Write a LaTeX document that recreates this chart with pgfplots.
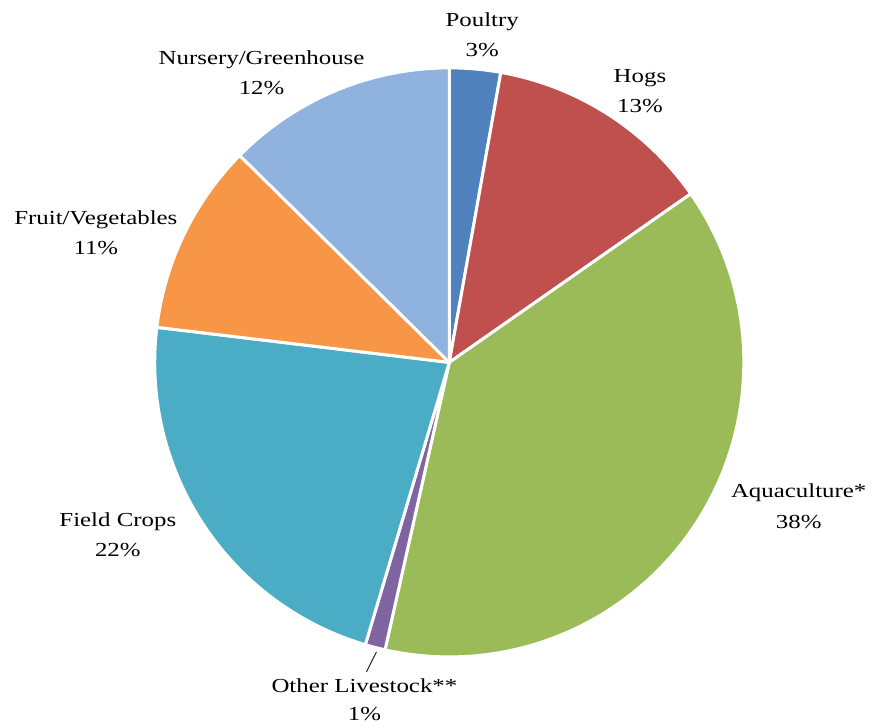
\documentclass[border=0pt]{standalone}
\usepackage{pgfplots}
\pgfplotsset{compat=1.18}
\usepackage{pgfplotstable}
\usepackage{fontspec}
\setmainfont{Liberation Serif}[FakeStretch=1.25]
\definecolor{cPoultry}{HTML}{4F81BD}
\definecolor{cHogs}{HTML}{C0504D}
\definecolor{cAqua}{HTML}{9BBB59}
\definecolor{cOther}{HTML}{8064A2}
\definecolor{cField}{HTML}{4BACC6}
\definecolor{cFruit}{HTML}{F79646}
\definecolor{cNursery}{HTML}{8FB3DE}
\definecolor{txt}{HTML}{262626}
\pgfplotstableread{
name value color
Poultry 2.8 cPoultry
Hogs 12.5 cHogs
Aquaculture 38.2 cAqua
OtherLivestock 1.1 cOther
FieldCrops 22.3 cField
FruitVegetables 10.5 cFruit
NurseryGreenhouse 12.6 cNursery
}\piedata
\begin{document}
\begin{tikzpicture}
\begin{axis}[
  x=0.5bp, y=0.5bp,
  xmin=-450, xmax=423, ymin=-364, ymax=363,
  hide axis, clip=false,
  every node/.style={font=\fontsize{13.5}{15}\selectfont, text=txt},
]
\addplot[draw=none] coordinates {(-450,-364) (423,363)};
\def\cum{90}
\pgfplotsforeachungrouped \i in {0,...,6}{%
  \pgfplotstablegetelem{\i}{value}\of\piedata \let\v\pgfplotsretval
  \pgfplotstablegetelem{\i}{color}\of\piedata \let\c\pgfplotsretval
  \pgfmathsetmacro\endang{\cum - 3.6*\v}%
  \edef\temp{\noexpand\addplot[fill=\c, draw=white, line width=1.5bp, line join=round]
    coordinates {(0,0)} -- ++(\cum:147.5bp) arc[start angle=\cum, end angle=\endang, radius=147.5bp] -- cycle;}%
  \temp
  \global\let\cum\endang
}
\addplot[txt, line width=0.5bp] coordinates {(-73,-290) (-83,-310)};
\node[anchor=base] at (axis cs:33,336) {Poultry};
\node[anchor=base] at (axis cs:33,306) {3\%};
\node[anchor=base] at (axis cs:191,280) {Hogs};
\node[anchor=base] at (axis cs:191,250) {13\%};
\node[anchor=base] at (axis cs:350,-135) {Aquaculture*};
\node[anchor=base] at (axis cs:350,-166) {38\%};
\node[anchor=base] at (axis cs:-85,-331) {Other Livestock**};
\node[anchor=base] at (axis cs:-85,-359) {1\%};
\node[anchor=base] at (axis cs:-332,-164) {Field Crops};
\node[anchor=base] at (axis cs:-332,-194) {22\%};
\node[anchor=base] at (axis cs:-354,138) {Fruit/Vegetables};
\node[anchor=base] at (axis cs:-354,108) {11\%};
\node[anchor=base] at (axis cs:-188,298) {Nursery/Greenhouse};
\node[anchor=base] at (axis cs:-188,268) {12\%};
\end{axis}
\end{tikzpicture}
\end{document}
